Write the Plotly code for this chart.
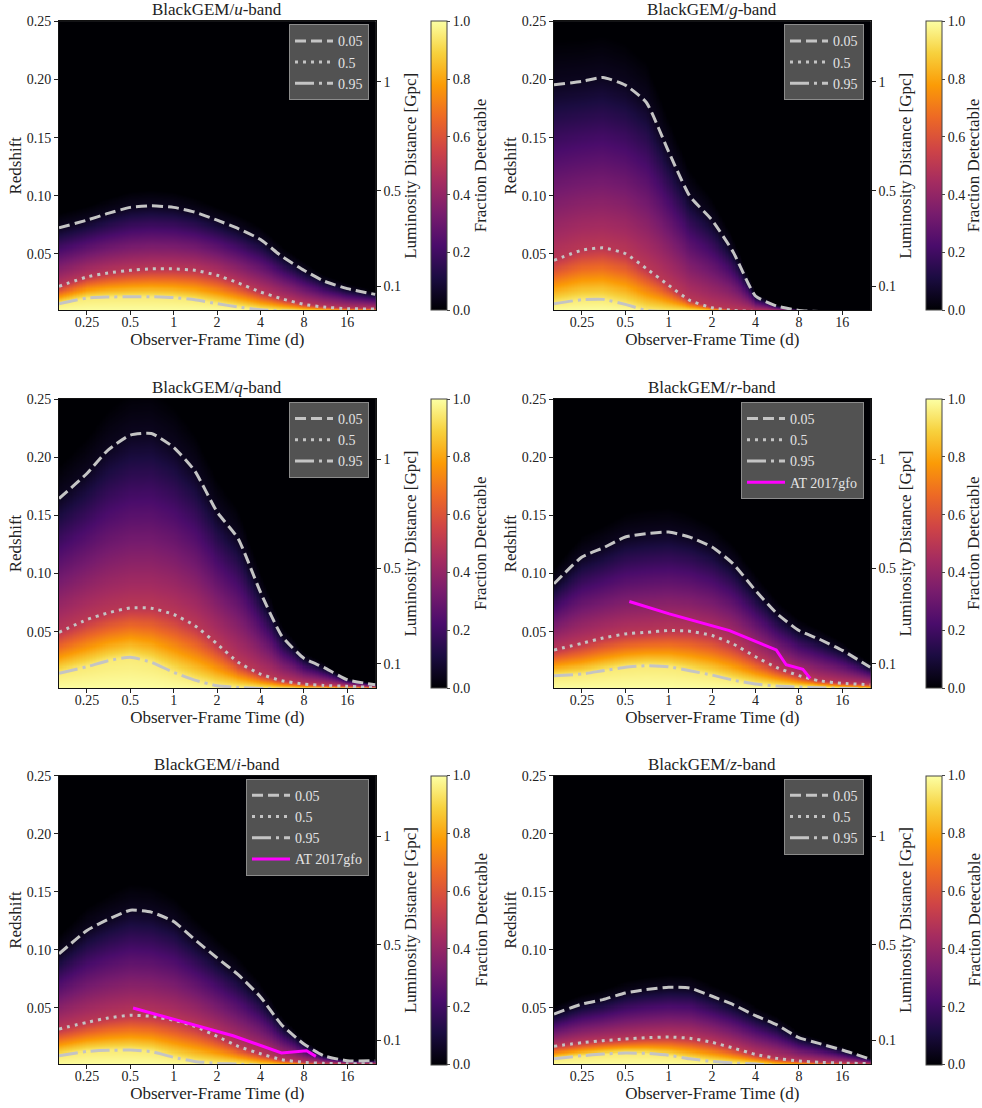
import numpy as np
import plotly.graph_objects as go

W, H = 982, 1108
FONT = "Liberation Serif"

# ---------------- data ----------------
bands = ["u", "g", "q", "r", "i", "z"]
levels = ["0.05", "0.5", "0.95"]

# observer-frame times (days) at which the contour redshifts were read
t_read = [0.16, 0.25, 0.35, 0.5, 0.7, 1.0, 1.4, 2.0, 2.8, 4.0, 5.6, 8.0, 11.0, 16.0, 25.0]

u_c05 = [0.0724, 0.0790, 0.0848, 0.0900, 0.0914, 0.0900, 0.0859, 0.0790, 0.0718, 0.0624, 0.0480, 0.0359, 0.0267, 0.0201, 0.0152]
u_c50 = [0.0221, 0.0302, 0.0336, 0.0359, 0.0371, 0.0371, 0.0359, 0.0316, 0.0250, 0.0172, 0.0115, 0.0066, 0.0043, 0.0029, 0.0026]
u_c95 = [0.0072, 0.0121, 0.0129, 0.0132, 0.0132, 0.0124, 0.0106, 0.0072, 0.0043, 0.0020, 0.0009, 0.0005, 0.0005, 0.0005, 0.0005]

g_c05 = [0.1954, 0.1983, 0.2017, 0.1951, 0.1802, 0.1377, 0.0997, 0.0790, 0.0517, 0.0138, 0.0052, 0.0014, 0.0005, 0.0005, 0.0005]
g_c50 = [0.0445, 0.0532, 0.0552, 0.0503, 0.0374, 0.0230, 0.0100, 0.0037, 0.0014, 0.0005, 0.0005, 0.0005, 0.0005, 0.0005, 0.0005]
g_c95 = [0.0072, 0.0106, 0.0109, 0.0066, 0.0014, 0.0005, 0.0005, 0.0005, 0.0005, 0.0005, 0.0005, 0.0005, 0.0005, 0.0005, 0.0005]

q_c05 = [0.1644, 0.1859, 0.2061, 0.2190, 0.2204, 0.2084, 0.1882, 0.1529, 0.1299, 0.0839, 0.0466, 0.0270, 0.0192, 0.0086, 0.0043]
q_c50 = [0.0494, 0.0603, 0.0661, 0.0704, 0.0701, 0.0647, 0.0552, 0.0394, 0.0236, 0.0135, 0.0078, 0.0049, 0.0037, 0.0029, 0.0020]
q_c95 = [0.0141, 0.0198, 0.0250, 0.0279, 0.0236, 0.0149, 0.0083, 0.0034, 0.0020, 0.0011, 0.0005, 0.0005, 0.0005, 0.0005, 0.0005]

r_c05 = [0.0911, 0.1141, 0.1219, 0.1313, 0.1342, 0.1356, 0.1313, 0.1227, 0.1083, 0.0854, 0.0658, 0.0509, 0.0437, 0.0339, 0.0193]
r_c50 = [0.0342, 0.0399, 0.0445, 0.0480, 0.0494, 0.0509, 0.0503, 0.0466, 0.0394, 0.0284, 0.0192, 0.0121, 0.0078, 0.0055, 0.0043]
r_c95 = [0.0121, 0.0135, 0.0164, 0.0193, 0.0207, 0.0198, 0.0164, 0.0126, 0.0083, 0.0049, 0.0032, 0.0023, 0.0017, 0.0011, 0.0006]

i_c05 = [0.0966, 0.1167, 0.1262, 0.1342, 0.1325, 0.1244, 0.1089, 0.0931, 0.0787, 0.0595, 0.0356, 0.0190, 0.0089, 0.0046, 0.0046]
i_c50 = [0.0319, 0.0376, 0.0414, 0.0437, 0.0428, 0.0394, 0.0342, 0.0256, 0.0170, 0.0106, 0.0055, 0.0032, 0.0023, 0.0020, 0.0020]
i_c95 = [0.0089, 0.0126, 0.0135, 0.0138, 0.0124, 0.0075, 0.0040, 0.0023, 0.0017, 0.0005, 0.0005, 0.0005, 0.0005, 0.0005, 0.0005]

zb_c05 = [0.0448, 0.0534, 0.0572, 0.0629, 0.0658, 0.0678, 0.0672, 0.0601, 0.0529, 0.0434, 0.0356, 0.0244, 0.0195, 0.0138, 0.0060]
zb_c50 = [0.0170, 0.0201, 0.0218, 0.0233, 0.0244, 0.0250, 0.0239, 0.0204, 0.0155, 0.0100, 0.0066, 0.0043, 0.0032, 0.0026, 0.0020]
zb_c95 = [0.0063, 0.0089, 0.0103, 0.0112, 0.0109, 0.0092, 0.0063, 0.0040, 0.0026, 0.0017, 0.0005, 0.0005, 0.0005, 0.0005, 0.0005]

contours = {
    "u": [u_c05, u_c50, u_c95],
    "g": [g_c05, g_c50, g_c95],
    "q": [q_c05, q_c50, q_c95],
    "r": [r_c05, r_c50, r_c95],
    "i": [i_c05, i_c50, i_c95],
    "z": [zb_c05, zb_c50, zb_c95],
}

# AT 2017gfo track (time in days, redshift)
at_r_t = [0.533, 1.01, 2.64, 5.57, 6.53, 8.53, 9.59]
at_r_z = [0.0759, 0.0652, 0.0509, 0.0342, 0.0215, 0.0175, 0.0098]
at_i_t = [0.522, 0.989, 2.58, 5.6, 8.35, 9.69]
at_i_z = [0.0500, 0.0405, 0.0261, 0.0112, 0.0132, 0.0083]
at_tracks = {"r": (at_r_t, at_r_z), "i": (at_i_t, at_i_z)}

# ticks
x_tick_vals = [0.25, 0.5, 1, 2, 4, 8, 16]
x_tick_text = ["0.25", "0.5", "1", "2", "4", "8", "16"]
y_tick_vals = [0.05, 0.10, 0.15, 0.20, 0.25]
y_tick_text = ["0.05", "0.10", "0.15", "0.20", "0.25"]
dl_tick_text = ["0.1", "0.5", "1"]          # luminosity distance [Gpc]
dl_tick_z = [0.0222, 0.1043, 0.1980]        # corresponding redshift
cb_tick_vals = [0.0, 0.2, 0.4, 0.6, 0.8, 1.0]
cb_tick_text = ["0.0", "0.2", "0.4", "0.6", "0.8", "1.0"]

# ---------------- layout geometry (pixels) ----------------
col_x = [(59.0, 375.7), (554.0, 870.7)]
row_y = [(21.3, 310.3), (399.0, 688.0), (775.7, 1064.3)]
cbar_x = [430.7, 925.7]
cbar_title_x = [480.5, 973.5]
X_RANGE = [np.log10(0.16), np.log10(25.2)]
Y_RANGE = [0.0015, 0.25]

# fine grid for the detectability map, built from the read contours
t_grid = np.logspace(np.log10(0.14), np.log10(27), 230)
z_grid = np.linspace(0.0005, 0.252, 280)
lt_read = np.log10(t_read)


def fraction_map(c05, c50, c95):
    lt = np.log10(t_grid)
    a05 = np.interp(lt, lt_read, c05)
    a50 = np.interp(lt, lt_read, c50)
    a95 = np.interp(lt, lt_read, c95)
    out = np.zeros((len(z_grid), len(t_grid)))
    for k in range(len(t_grid)):
        p95 = max(a95[k], 1e-5)
        p50 = max(a50[k], p95 + 1e-5)
        p05 = max(a05[k], p50 + 1e-5)
        p00 = p05 + max(0.25 * (p05 - p50), 1e-3)
        out[:, k] = np.interp(z_grid, [0.0, p95, p50, p05, p00], [1.0, 0.95, 0.5, 0.05, 0.0])
    return out


dashes = ["11px,5px", "3px,5px", "19px,5px,3px,5px"]
CONT_COLOR = "#c4c4c4"
TXT = "#222"

fig = go.Figure()
layout = dict(
    width=W, height=H, autosize=False,
    margin=dict(l=0, r=0, t=0, b=0, autoexpand=False),
    paper_bgcolor="white", plot_bgcolor="black",
    font=dict(family=FONT, size=14, color=TXT),
    annotations=[],
)

for idx, band in enumerate(bands):
    r, c = divmod(idx, 2)
    n = idx + 1
    xa = "x" if n == 1 else f"x{n}"
    ya = "y" if n == 1 else f"y{n}"
    ya2 = f"y{n + 6}"
    lg = "legend" if n == 1 else f"legend{n}"
    x0, x1 = col_x[c]
    y0, y1 = row_y[r]

    c05, c50, c95 = contours[band]
    frac = fraction_map(c05, c50, c95)
    fig.add_trace(go.Heatmap(
        x=t_grid, y=z_grid, z=frac, colorscale="Inferno", zmin=0, zmax=1,
        xaxis=xa, yaxis=ya, hoverinfo="skip", showlegend=False,
        colorbar=dict(
            x=cbar_x[c] / W, xanchor="left", xpad=0,
            y=1 - (y0 + y1) / 2 / H, yanchor="middle", ypad=0,
            len=(y1 - y0) / H, lenmode="fraction",
            thickness=16, thicknessmode="pixels",
            outlinewidth=1, outlinecolor="#444",
            tickvals=cb_tick_vals, ticktext=cb_tick_text,
            ticks="outside", ticklen=3, tickcolor="#444",
            tickfont=dict(family=FONT, size=14, color=TXT),
        ),
    ))
    for lev, zs, dash in zip(levels, [c05, c50, c95], dashes):
        fig.add_trace(go.Scatter(
            x=t_read, y=zs, mode="lines", name=lev,
            line=dict(color=CONT_COLOR, width=3, dash=dash, shape="spline", smoothing=0.5),
            xaxis=xa, yaxis=ya, legend=lg, hoverinfo="skip",
        ))
    if band in at_tracks:
        tt, zz = at_tracks[band]
        fig.add_trace(go.Scatter(
            x=tt, y=zz, mode="lines", name="AT 2017gfo",
            line=dict(color="#ff00ff", width=3),
            xaxis=xa, yaxis=ya, legend=lg, hoverinfo="skip",
        ))
    # luminosity-distance axis: an invisible trace so the right-hand axis is drawn
    fig.add_trace(go.Scatter(
        x=t_read[:1], y=dl_tick_z[:1], mode="markers", marker=dict(opacity=0),
        xaxis=xa, yaxis=ya2, showlegend=False, hoverinfo="skip",
    ))

    axis_common = dict(ticks="outside", ticklen=4, tickcolor=TXT, showgrid=False,
                       zeroline=False, automargin=False,
                       tickfont=dict(family=FONT, size=14, color=TXT))
    layout[f"xaxis{n}"] = dict(
        domain=[x0 / W, x1 / W], anchor=ya, type="log", range=X_RANGE,
        tickvals=x_tick_vals, ticktext=x_tick_text, ticklabelstandoff=-5,
        showline=True, mirror=True, linecolor="#111", linewidth=1,
        title=dict(text="Observer-Frame Time (d)", font=dict(family=FONT, size=17, color=TXT), standoff=2),
        **axis_common,
    )
    layout[f"yaxis{n}"] = dict(
        domain=[1 - y1 / H, 1 - y0 / H], anchor=xa, range=Y_RANGE,
        tickvals=y_tick_vals, ticktext=y_tick_text,
        showline=True, mirror=True, linecolor="#111", linewidth=1,
        title=dict(text="Redshift", font=dict(family=FONT, size=17, color=TXT), standoff=0),
        **axis_common,
    )
    layout[f"yaxis{n + 6}"] = dict(
        overlaying=ya, anchor=xa, side="right", range=Y_RANGE,
        tickvals=dl_tick_z, ticktext=dl_tick_text, showline=False,
        title=dict(text="Luminosity Distance [Gpc]", font=dict(family=FONT, size=17, color=TXT), standoff=4),
        **axis_common,
    )
    layout[lg] = dict(
        x=(x1 - 6.7) / W, xanchor="right", y=1 - (y0 + 3.0) / H, yanchor="top",
        bgcolor="rgba(85,85,85,0.97)", bordercolor="#8c8c8c", borderwidth=1,
        font=dict(family=FONT, size=14, color="#e4e4e4"),
        tracegroupgap=0, itemwidth=38,
    )
    layout["annotations"].append(dict(
        text=f"BlackGEM/<i>{band}</i>-band", x=(x0 + x1) / 2 / W, y=1 - y0 / H,
        xref="paper", yref="paper", xanchor="center", yanchor="bottom",
        showarrow=False, font=dict(family=FONT, size=17, color=TXT), yshift=0,
    ))
    layout["annotations"].append(dict(
        text="Fraction Detectable", textangle=-90,
        x=cbar_title_x[c] / W, y=1 - (y0 + y1) / 2 / H,
        xref="paper", yref="paper", xanchor="center", yanchor="middle",
        showarrow=False, font=dict(family=FONT, size=17, color=TXT),
    ))

fig.update_layout(**layout)
fig.write_html("out.html")
